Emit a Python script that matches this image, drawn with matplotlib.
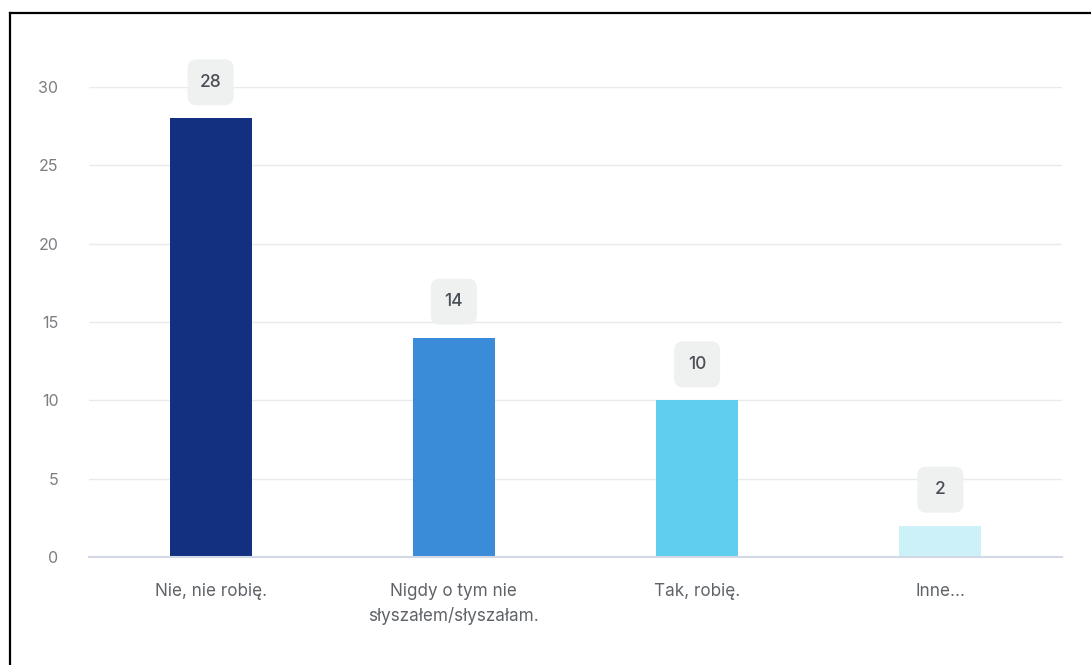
import matplotlib.pyplot as plt
from matplotlib.patches import FancyBboxPatch
from matplotlib.lines import Line2D
from matplotlib.transforms import Affine2D, ScaledTranslation

categories = ['Nie, nie robię.', 'Nigdy o tym nie\nsłyszałem/słyszałam.', 'Tak, robię.', 'Inne...']
values = [28, 14, 10, 2]
colors = ['#12307f', '#3a8bd8', '#5fcfef', '#cdf1f9']
yticks = [0, 5, 10, 15, 20, 25, 30]

plt.rcParams['font.family'] = ['Inter', 'DejaVu Sans']

W, H = 1091, 665
fig = plt.figure(figsize=(W / 100, H / 100), dpi=100)
ax = fig.add_axes([89 / W, (H - 557) / H, (1062 - 89) / W, (557 - 87) / H])

x = list(range(len(categories)))
ax.bar(x, values, width=0.337, color=colors, zorder=3)

ax.set_xlim(-0.5, len(categories) - 0.5)
ax.set_ylim(0, 30)
ax.set_yticks(yticks)
ax.set_xticks(x)
ax.set_xticklabels(categories, fontsize=12.3, color='#5f6368', linespacing=1.45)
ax.tick_params(axis='y', length=0, pad=22, labelsize=11.5, labelcolor='#7a7d82')
ax.tick_params(axis='x', length=0, pad=19)

for s in ['top', 'right', 'left']:
    ax.spines[s].set_visible(False)
ax.spines['bottom'].set_color('#d3d8e6')
ax.spines['bottom'].set_linewidth(1.5)
ax.spines['bottom'].set_zorder(4)
ax.grid(axis='y', color='#e8eaed', linewidth=1, zorder=0)
ax.set_axisbelow(True)

# value labels in grey rounded boxes above bars
for i, v in enumerate(values):
    tr = Affine2D() + ScaledTranslation(i, v, ax.transData)
    box = FancyBboxPatch((-23, 13), 46, 46, boxstyle='round,pad=0,rounding_size=9',
                         fc='#eff1f1', ec='none', transform=tr, clip_on=False, zorder=5)
    ax.add_patch(box)
    ax.annotate(str(v), (i, v), xytext=(0, 36), textcoords='offset pixels',
                ha='center', va='center', fontsize=12.5, fontweight='medium',
                color='#4a4f55', zorder=6, annotation_clip=False)

# frame lines (top and left)
fig.add_artist(Line2D([9.5 / W, 1], [1 - 12.5 / H, 1 - 12.5 / H], color='black', lw=1.6,
                      transform=fig.transFigure))
fig.add_artist(Line2D([9.5 / W, 9.5 / W], [0, 1 - 12.5 / H], color='black', lw=1.6,
                      transform=fig.transFigure))

fig.savefig('out.png', dpi=100, facecolor='white')
